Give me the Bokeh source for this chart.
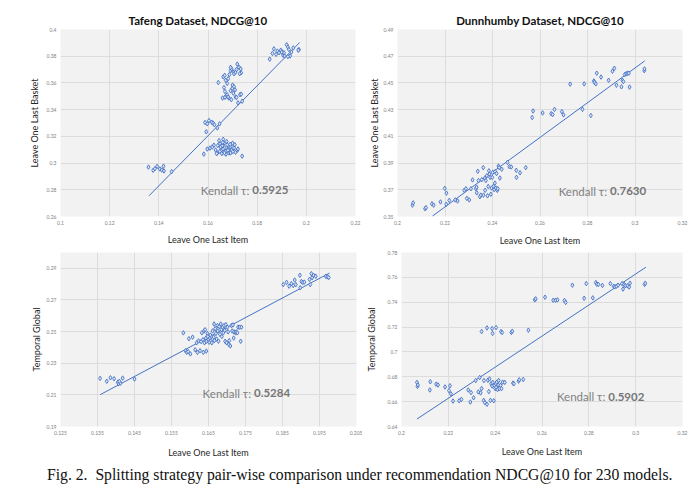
from bokeh.plotting import figure
from bokeh.layouts import column, row
from bokeh.models import Div, FixedTicker, CustomJSTickFormatter, Label, Range1d
from bokeh.embed import file_html
from bokeh.resources import INLINE

# ---------------- data ----------------
# Tafeng: Leave One Last Item (x) vs Leave One Last Basket (y)
tl_x = [0.1358, 0.1377, 0.1384, 0.1393, 0.1404, 0.1412, 0.1419, 0.1421, 0.1452,
        0.1588, 0.1597, 0.1604, 0.1615, 0.1621, 0.1626, 0.1638, 0.1647, 0.1593, 0.1739,
        0.1583, 0.1597, 0.1608, 0.1624, 0.1631, 0.1638, 0.1645, 0.1649, 0.1651, 0.1654,
        0.1658, 0.1662, 0.1665, 0.1668, 0.1672, 0.1676, 0.1678, 0.1682, 0.1686, 0.1692,
        0.1696, 0.1700, 0.1706, 0.1709, 0.1712, 0.1719, 0.1722, 0.1739, 0.1635, 0.1656,
        0.1673, 0.1692, 0.1617, 0.1640, 0.1661, 0.1681, 0.1701, 0.1648, 0.1667, 0.1690, 0.1660,
        0.1642, 0.1662, 0.1668, 0.1672, 0.1678, 0.1682, 0.1687, 0.1692, 0.1696, 0.1703,
        0.1706, 0.1712, 0.1716, 0.1719, 0.1726, 0.1733, 0.1735, 0.1729, 0.1692, 0.1700,
        0.1665, 0.1669, 0.1673, 0.1678, 0.1685, 0.1692, 0.1699, 0.1703, 0.1706, 0.1710,
        0.1712, 0.1716, 0.1722, 0.1730, 0.1735, 0.1669, 0.1682, 0.1659, 0.1695,
        0.1851, 0.1862, 0.1868, 0.1877, 0.1882, 0.1889, 0.1896, 0.1902, 0.1906, 0.1912,
        0.1920, 0.1925, 0.1929, 0.1934, 0.1939, 0.1947, 0.1970, 0.1967, 0.1909, 0.1900, 0.1925]
tl_y = [0.2970, 0.2946, 0.2958, 0.2975, 0.2956, 0.2948, 0.2977, 0.2941, 0.2936,
        0.3304, 0.3294, 0.3318, 0.3306, 0.3299, 0.3287, 0.3263, 0.3294, 0.3234, 0.3463,
        0.3067, 0.3105, 0.3112, 0.3134, 0.3098, 0.3076, 0.3168, 0.3144, 0.3120, 0.3096,
        0.3130, 0.3178, 0.3149, 0.3113, 0.3088, 0.3161, 0.3137, 0.3105, 0.3076, 0.3125,
        0.3096, 0.3149, 0.3113, 0.3137, 0.3081, 0.3096, 0.3105, 0.3052, 0.3071, 0.3071,
        0.3067, 0.3076, 0.3120, 0.3132, 0.3105, 0.3096, 0.3086, 0.3088, 0.3076, 0.3140, 0.3155,
        0.3603, 0.3645, 0.3657, 0.3620, 0.3596, 0.3632, 0.3662, 0.3693, 0.3705, 0.3681,
        0.3669, 0.3681, 0.3700, 0.3741, 0.3717, 0.3705, 0.3676, 0.3669, 0.3717, 0.3584,
        0.3565, 0.3536, 0.3500, 0.3512, 0.3487, 0.3541, 0.3560, 0.3524, 0.3572, 0.3548,
        0.3495, 0.3492, 0.3451, 0.3512, 0.3516, 0.3492, 0.3495, 0.3487, 0.3475,
        0.3778, 0.3821, 0.3855, 0.3814, 0.3838, 0.3826, 0.3845, 0.3831, 0.3807, 0.3802,
        0.3886, 0.3869, 0.3850, 0.3802, 0.3831, 0.3862, 0.3850, 0.3845, 0.3826, 0.3831, 0.3797]
tl_trend_x = [0.1360, 0.1973]
tl_trend_y = [0.2755, 0.3903]

# Dunnhumby: Leave One Last Item (x) vs Leave One Last Basket (y)
tr_x = [0.2063, 0.2066, 0.2116, 0.2120, 0.2145, 0.2152, 0.2181, 0.2199, 0.2206, 0.2205,
        0.2218, 0.2243, 0.2253, 0.2281, 0.2288, 0.2292, 0.2302, 0.2309, 0.2316, 0.2330,
        0.2333, 0.2334, 0.2338, 0.2341, 0.2347, 0.2351, 0.2355, 0.2361, 0.2362, 0.2368,
        0.2369, 0.2372, 0.2376, 0.2379, 0.2382, 0.2385, 0.2387, 0.2390, 0.2393, 0.2396,
        0.2399, 0.2401, 0.2404, 0.2407, 0.2410, 0.2411, 0.2414, 0.2417, 0.2420, 0.2422,
        0.2425, 0.2428, 0.2431, 0.2439, 0.2463, 0.2471, 0.2479, 0.2500, 0.2501, 0.2516, 0.2540,
        0.2567, 0.2571, 0.2611, 0.2647, 0.2653, 0.2661, 0.2692, 0.2699, 0.2727, 0.2779,
        0.2786, 0.2814, 0.2827, 0.2829, 0.2835, 0.2839, 0.2857, 0.2889, 0.2905, 0.2913,
        0.2922, 0.2943, 0.2947, 0.2951, 0.2957, 0.2963, 0.2968, 0.2974, 0.2977, 0.3039, 0.3040]
tr_y = [0.3585, 0.3602, 0.3558, 0.3566, 0.3595, 0.3585, 0.3609, 0.3711, 0.3675, 0.3592,
        0.3621, 0.3624, 0.3616, 0.3696, 0.3708, 0.3636, 0.3624, 0.3708, 0.3774, 0.3708,
        0.3720, 0.3677, 0.3839, 0.3769, 0.3648, 0.3660, 0.3776, 0.3866, 0.3660, 0.3788,
        0.3696, 0.3769, 0.3805, 0.3655, 0.3725, 0.3842, 0.3817, 0.3793, 0.3667, 0.3713,
        0.3793, 0.3830, 0.3725, 0.3701, 0.3750, 0.3837, 0.3713, 0.3822, 0.3696, 0.3708,
        0.3878, 0.3866, 0.3788, 0.3854, 0.3905, 0.3873, 0.3871, 0.3846, 0.3793, 0.3827, 0.3866,
        0.4241, 0.4290, 0.4275, 0.4270, 0.4263, 0.4302, 0.4285, 0.4261, 0.4491, 0.4302,
        0.4493, 0.4256, 0.4515, 0.4505, 0.4493, 0.4573, 0.4544, 0.4520, 0.4588, 0.4610,
        0.4483, 0.4471, 0.4520, 0.4510, 0.4563, 0.4568, 0.4573, 0.4573, 0.4469, 0.4592, 0.4605]
tr_trend_x = [0.2147, 0.3041]
tr_trend_y = [0.3503, 0.4665]

# Tafeng: Leave One Last Item (x) vs Temporal Global (y)
bl_x = [0.1357, 0.1375, 0.1385, 0.1395, 0.1405, 0.1407, 0.1412, 0.1418, 0.1450, 0.1409,
        0.1582, 0.1588, 0.1591, 0.1595, 0.1597, 0.1601, 0.1607, 0.1614, 0.1618, 0.1620,
        0.1623, 0.1627, 0.1630, 0.1632, 0.1635, 0.1636, 0.1638, 0.1639, 0.1641, 0.1643,
        0.1644, 0.1645, 0.1647, 0.1648, 0.1650, 0.1652, 0.1654, 0.1655, 0.1657, 0.1659,
        0.1661, 0.1664, 0.1665, 0.1666, 0.1668, 0.1670, 0.1672, 0.1674, 0.1675, 0.1677,
        0.1679, 0.1681, 0.1683, 0.1685, 0.1686, 0.1688, 0.1690, 0.1692, 0.1694, 0.1695,
        0.1697, 0.1699, 0.1701, 0.1703, 0.1705, 0.1706, 0.1709, 0.1712, 0.1714, 0.1716,
        0.1719, 0.1723, 0.1725, 0.1728, 0.1730, 0.1734, 0.1737, 0.1739, 0.1718,
        0.1852, 0.1861, 0.1868, 0.1874, 0.1879, 0.1883, 0.1886, 0.1897, 0.1898, 0.1901,
        0.1905, 0.1909, 0.1923, 0.1925, 0.1928, 0.1930, 0.1934, 0.1940, 0.1967, 0.1971, 0.1975]
bl_y = [0.2204, 0.2186, 0.2208, 0.2202, 0.2180, 0.2170, 0.2174, 0.2206, 0.2200, 0.2186,
        0.2492, 0.2379, 0.2369, 0.2373, 0.2455, 0.2359, 0.2465, 0.2385, 0.2429, 0.2369,
        0.2441, 0.2379, 0.2437, 0.2492, 0.2449, 0.2369, 0.2504, 0.2429, 0.2512, 0.2459,
        0.2377, 0.2439, 0.2488, 0.2469, 0.2449, 0.2433, 0.2459, 0.2478, 0.2443, 0.2429,
        0.2504, 0.2465, 0.2548, 0.2443, 0.2518, 0.2488, 0.2453, 0.2538, 0.2504, 0.2439,
        0.2532, 0.2482, 0.2548, 0.2512, 0.2469, 0.2528, 0.2492, 0.2538, 0.2508, 0.2439,
        0.2544, 0.2429, 0.2528, 0.2498, 0.2419, 0.2443, 0.2409, 0.2538, 0.2504, 0.2542,
        0.2498, 0.2492, 0.2498, 0.2492, 0.2528, 0.2528, 0.2439, 0.2528, 0.2459,
        0.2797, 0.2811, 0.2787, 0.2803, 0.2791, 0.2826, 0.2797, 0.2856, 0.2777, 0.2817,
        0.2811, 0.2813, 0.2830, 0.2797, 0.2866, 0.2840, 0.2856, 0.2850, 0.2850, 0.2846, 0.2842]
bl_trend_x = [0.1357, 0.1977]
bl_trend_y = [0.2101, 0.2870]

# Dunnhumby: Leave One Last Item (x) vs Temporal Global (y)
br_x = [0.2066, 0.2068, 0.2070, 0.2121, 0.2123, 0.2148, 0.2156, 0.2186, 0.2203, 0.2207,
        0.2211, 0.2220, 0.2246, 0.2256, 0.2285, 0.2294, 0.2297, 0.2308, 0.2317, 0.2328,
        0.2334, 0.2338, 0.2342, 0.2351, 0.2352, 0.2356, 0.2365, 0.2369, 0.2373, 0.2376,
        0.2380, 0.2383, 0.2387, 0.2390, 0.2394, 0.2397, 0.2400, 0.2403, 0.2404, 0.2407,
        0.2410, 0.2413, 0.2415, 0.2418, 0.2423, 0.2427, 0.2432, 0.2441, 0.2476, 0.2480,
        0.2500, 0.2503, 0.2520,
        0.2342, 0.2365, 0.2387, 0.2389, 0.2404, 0.2425, 0.2430, 0.2469, 0.2473, 0.2542,
        0.2569, 0.2573, 0.2613, 0.2648, 0.2658, 0.2666, 0.2696, 0.2701, 0.2730, 0.2780,
        0.2789, 0.2817, 0.2830, 0.2834, 0.2841, 0.2858, 0.2892, 0.2906, 0.2911, 0.2918,
        0.2925, 0.2942, 0.2946, 0.2951, 0.2956, 0.2965, 0.2972, 0.2976, 0.3038, 0.3041]
br_y = [0.6755, 0.6723, 0.6734, 0.6694, 0.6760, 0.6741, 0.6734, 0.6718, 0.6689, 0.6728,
        0.6663, 0.6605, 0.6607, 0.6618, 0.6694, 0.6597, 0.6673, 0.6631, 0.6770, 0.6678,
        0.6794, 0.6670, 0.6705, 0.6610, 0.6770, 0.6592, 0.6579, 0.6773, 0.6681, 0.6783,
        0.6610, 0.6744, 0.6726, 0.6755, 0.6607, 0.6728, 0.6705, 0.6744, 0.6715, 0.6757,
        0.6697, 0.6734, 0.6770, 0.6705, 0.6731, 0.6705, 0.6757, 0.6755, 0.6749, 0.6744,
        0.6765, 0.6776, 0.6778,
        0.7164, 0.7193, 0.7188, 0.7149, 0.7196, 0.7164, 0.7156, 0.7156, 0.7167, 0.7175,
        0.7419, 0.7427, 0.7440, 0.7416, 0.7416, 0.7419, 0.7414, 0.7398, 0.7537, 0.7432,
        0.7550, 0.7435, 0.7558, 0.7545, 0.7543, 0.7535, 0.7550, 0.7527, 0.7524, 0.7529,
        0.7537, 0.7550, 0.7506, 0.7543, 0.7532, 0.7532, 0.7522, 0.7553, 0.7543, 0.7553]
br_trend_x = [0.2066, 0.3044]
br_trend_y = [0.6460, 0.7682]

kendall = ["0.5925", "0.7630", "0.5284", "0.5902"]

tl_xticks = [0.1, 0.12, 0.14, 0.16, 0.18, 0.2, 0.22]
tl_yticks = [0.26, 0.28, 0.3, 0.32, 0.34, 0.36, 0.38, 0.4]
tr_xticks = [0.2, 0.22, 0.24, 0.26, 0.28, 0.3, 0.32]
tr_yticks = [0.35, 0.37, 0.39, 0.41, 0.43, 0.45, 0.47, 0.49]
bl_xticks = [0.125, 0.135, 0.145, 0.155, 0.165, 0.175, 0.185, 0.195, 0.205]
bl_yticks = [0.19, 0.21, 0.23, 0.25, 0.27, 0.29]
br_xticks = [0.2, 0.22, 0.24, 0.26, 0.28, 0.3, 0.32]
br_yticks = [0.64, 0.66, 0.68, 0.7, 0.72, 0.74, 0.76, 0.78]

# ---------------- style ----------------
FONT = "Lato"
BLUE = "#4472c4"
fmt_code = "return parseFloat(tick.toFixed(3)).toString();"


def panel(w, h, borders, xr, yr, xt, yt, xlab, ylab, title=None, title_off=None,
          xstand=3, ystand=7):
    left, right, top, bottom = borders
    p = figure(width=w, height=h, output_backend="svg", toolbar_location=None,
               x_range=Range1d(*xr), y_range=Range1d(*yr),
               min_border_left=left, min_border_right=right,
               min_border_top=top, min_border_bottom=bottom,
               background_fill_color="#f2f2f2", border_fill_color="white",
               outline_line_color=None)
    if title:
        p.title.text = title
        p.title.text_font = FONT
        p.title.text_font_size = "11.5px"
        p.title.text_font_style = "bold"
        p.title.text_color = "#111111"
        p.title.standoff = 5
        if title_off is None:
            p.title.align = "center"
        else:
            p.title.align = "left"
            p.title.offset = title_off
    p.xaxis.ticker = FixedTicker(ticks=xt)
    p.yaxis.ticker = FixedTicker(ticks=yt)
    for ax in (p.xaxis[0], p.yaxis[0]):
        ax.formatter = CustomJSTickFormatter(code=fmt_code)
        ax.axis_line_color = None
        ax.major_tick_line_color = None
        ax.minor_tick_line_color = None
        ax.major_tick_out = 0
        ax.major_tick_in = 0
        ax.minor_tick_out = 0
        ax.major_label_text_font = FONT
        ax.major_label_text_font_size = "5px"
        ax.major_label_text_color = "#7f7f7f"
        ax.major_label_standoff = 4
        ax.axis_label_text_font = FONT
        ax.axis_label_text_font_size = "9px"
        ax.axis_label_text_font_style = "normal"
        ax.axis_label_text_color = "#262626"
    p.xaxis.axis_label = xlab
    p.yaxis.axis_label = ylab
    p.xaxis.axis_label_standoff = xstand
    p.yaxis.axis_label_standoff = ystand
    p.grid.grid_line_color = "#dcdcdc"
    p.grid.grid_line_width = 1
    return p


def add_data(p, xs, ys, tx, ty, kx, ky, kval):
    p.line(tx, ty, line_color=BLUE, line_width=1)
    p.scatter(xs, ys, marker="diamond", size=4.5, line_color=BLUE,
              fill_color="#dbe4f5", line_width=0.9)
    p.add_layout(Label(x=kx, y=ky, text="Kendall τ: ", text_font=FONT,
                       text_font_size="11.5px", text_color="#808080",
                       text_align="right", text_baseline="middle"))
    p.add_layout(Label(x=kx, y=ky, text=kval, text_font=FONT,
                       text_font_size="11.5px", text_font_style="bold",
                       text_color="#767676",
                       text_align="left", text_baseline="middle"))


tl = panel(362, 248, (60, 7, 29, 26), (0.1, 0.22), (0.26, 0.40), tl_xticks, tl_yticks,
           "Leave One Last Item", "Leave One Last Basket",
           title="Tafeng Dataset, NDCG@10", title_off=68, xstand=6, ystand=4)
add_data(tl, tl_x, tl_y, tl_trend_x, tl_trend_y, 0.1780, 0.2798, kendall[0])

tr = panel(330, 248, (35, 10, 24, 31), (0.2, 0.32), (0.35, 0.49), tr_xticks, tr_yticks,
           "Leave One Last Item", "Leave One Last Basket",
           title="Dunnhumby Dataset, NDCG@10", xstand=7, ystand=1)
add_data(tr, tr_x, tr_y, tr_trend_x, tr_trend_y, 0.2895, 0.3689, kendall[1])

bl = panel(362, 212, (60, 6, 2, 26), (0.125, 0.205), (0.19, 0.30), bl_xticks, bl_yticks,
           "Leave One Last Item", "Temporal Global", xstand=9, ystand=2)
add_data(bl, bl_x, bl_y, bl_trend_x, bl_trend_y, 0.1773, 0.2111, kendall[2])

br = panel(330, 212, (36, 10, 4, 31), (0.2, 0.32), (0.64, 0.78), br_xticks, br_yticks,
           "Leave One Last Item", "Temporal Global", xstand=8, ystand=8)
add_data(br, br_x, br_y, br_trend_x, br_trend_y, 0.2883, 0.6639, kendall[3])

caption = Div(text="Fig. 2.&nbsp; Splitting strategy pair-wise comparison under recommendation "
                   "NDCG@10 for 230 models.",
              width=692, height=28, margin=(0, 0, 0, 0),
              styles={"font-family": "Liberation Serif", "font-size": "15.7px",
                      "line-height": "18px",
                      "color": "#111111", "padding-left": "47px", "padding-top": "6px",
                      "white-space": "nowrap"})

layout = column(row(tl, tr, spacing=0), row(bl, br, spacing=0), caption, spacing=0)

open("out.html", "w").write(file_html(layout, INLINE))
